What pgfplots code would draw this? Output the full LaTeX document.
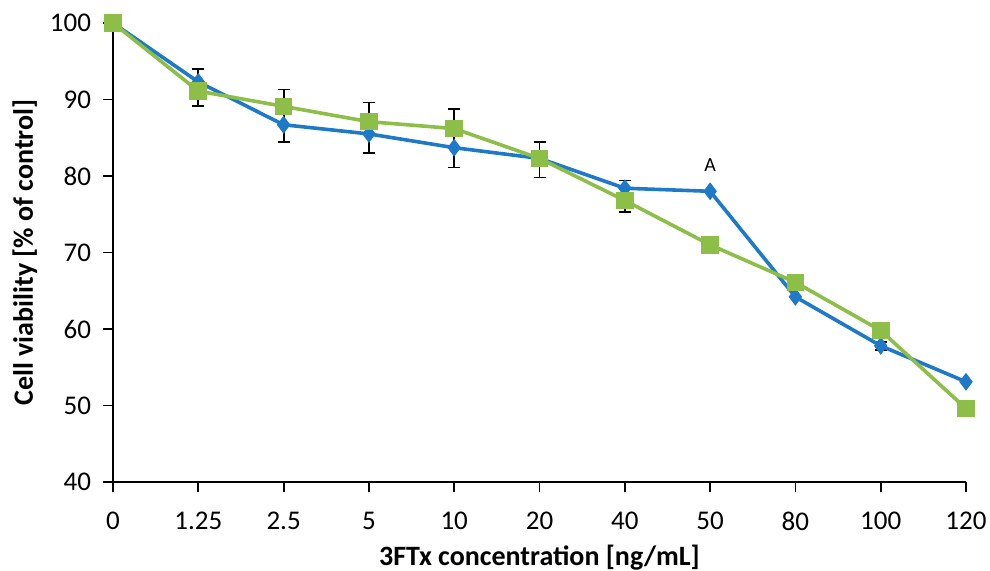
\documentclass[border=0pt]{standalone}
\usepackage{pgfplots}
\pgfplotsset{compat=1.18}
\usepackage{fontspec}
\setmainfont{Carlito}
\definecolor{cblue}{RGB}{30,122,200}
\definecolor{cgreen}{RGB}{140,190,72}
\begin{document}
\begin{tikzpicture}
\begin{axis}[
  name=ax,
  scale only axis,
  width=426.5pt, height=229.5pt,
  xmin=0, xmax=10, ymin=40, ymax=100,
  axis lines=left,
  axis line style={-, line width=1pt, black},
  xtick={0,...,10},
  xticklabels={0,1.25,2.5,5,10,20,40,50,80,100,120},
  ytick={40,50,...,100},
  tick align=outside,
  major tick length=5pt,
  tick style={black, line width=0.9pt},
  tick label style={font=\fontsize{13.5}{16}\selectfont},
  xticklabel style={yshift=-6.5pt},
  yticklabel style={xshift=-2.5pt},
  /pgf/number format/assume math mode=true,
  xlabel={\textbf{3FTx concentration [ng/mL]}},
  ylabel={\textbf{Cell viability [\% of control]}},
  label style={font=\fontsize{14}{16}\selectfont},
  xlabel style={at={(axis description cs:0.5,-0.165)}, anchor=center},
  ylabel style={at={(axis description cs:-0.1032,0.5)}, anchor=center},
  clip=false,
]
\addplot[draw=none, mark=none, error bars/.cd, y dir=both, y explicit,
  error mark options={rotate=90, mark size=3pt, line width=0.9pt},
  error bar style={draw=black, line width=0.9pt}]
  table[x=x, y=y, y error plus=ep, y error minus=em] {
x y ep em
1 92.3 1.7 3.1
2 86.7 4.6 2.3
3 85.5 4.1 2.5
4 83.7 5.1 2.6
5 82.3 2.1 2.5
6 78.4 1.0 3.1
9 57.8 0.5 0.5
};
\addplot[cblue, line width=1.8pt, mark=diamond*, mark size=3pt] table {
0 100
1 92.3
2 86.7
3 85.5
4 83.7
5 82.3
6 78.4
7 78.0
8 64.2
9 57.8
10 53.1
};
\addplot[cgreen, line width=1.8pt, mark=square*, mark size=3.5pt] table {
0 100
1 91.1
2 89.1
3 87.1
4 86.2
5 82.3
6 76.8
7 71.0
8 66.1
9 59.8
10 49.6
};
\node[font=\fontsize{10}{11}\selectfont, anchor=south] at (axis cs:7,79.6) {A};
\end{axis}
\pgfresetboundingbox
\path ([xshift=-56.5pt, yshift=-44.5pt]ax.south west) rectangle ([xshift=12pt, yshift=11.5pt]ax.north east);
\end{tikzpicture}
\end{document}
